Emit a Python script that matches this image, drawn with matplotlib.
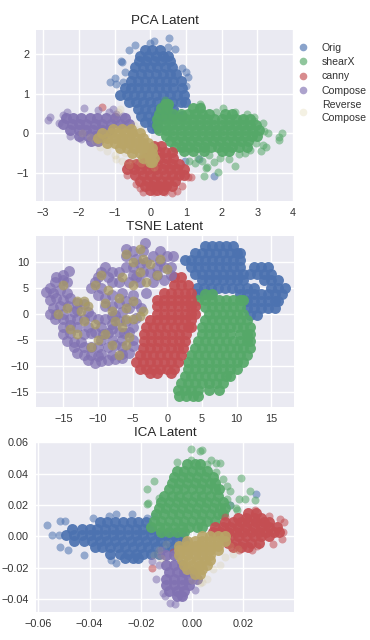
import numpy as np
import matplotlib
matplotlib.use('Agg')
import matplotlib.pyplot as plt
from matplotlib.lines import Line2D

plt.rcParams['font.family'] = ['Liberation Sans', 'DejaVu Sans']

names = ['Orig', 'shearX', 'canny', 'Compose', 'Reverse\nCompose']
colors = ['#4C72B0', '#55A868', '#C44E52', '#8172B2', '#CCB974']
tan_solid = '#B9A567'

### PCA values, (y, [x...]) rows for the dense part, pairs for the loose points
pca_orig_rows = [(2.1, [-0.15, 0.05, 0.28]), (1.97, [-0.28, -0.05, 0.15, 0.35, 0.5]),
    (1.83, [-0.32, -0.12, 0.1, 0.3, 0.55]), (1.68, [-0.42, -0.2, 0, 0.2, 0.4, 0.62]),
    (1.5, [-0.48, -0.25, -0.05, 0.15, 0.35, 0.55, 0.72]),
    (1.32, [-0.55, -0.35, -0.15, 0.05, 0.25, 0.45, 0.65, 0.85]),
    (1.15, [-0.72, -0.55, -0.35, -0.15, 0.05, 0.25, 0.45, 0.65, 0.88]),
    (0.97, [-0.85, -0.65, -0.45, -0.25, -0.05, 0.15, 0.35, 0.55, 0.75, 0.95]),
    (0.8, [-0.6, -0.4, -0.2, 0, 0.2, 0.4, 0.6, 0.85, 0.98]),
    (0.62, [-0.35, -0.15, 0.05, 0.25, 0.45, 0.65]), (0.45, [-0.25, -0.05, 0.15, 0.35, 0.6, 0.9]),
    (0.28, [-0.15, 0.05, 0.2]), (0.13, [0.05, 0.18])]
pca_orig_loose = [(0.53, 2.42), (0.1, 2.33), (0, 2.28), (-0.43, 2.25), (-0.6, 2.1), (0.5, 2.2), (0.7, 2.15),
    (-0.82, 1.83), (-0.78, 1.8), (0.9, 1.65), (1.0, 1.55), (1.06, 1.42), (-1.12, 1.3), (-1.0, 1.4),
    (-0.7, 1.55), (1.0, 1.2), (1.78, -1.08), (1.38, -0.66), (0.98, -0.7), (-0.95, 1.25), (-0.75, 1.3)]
pca_shear_rows = [(0.75, [0.4, 0.5]), (0.63, [0.3, 0.48, 1.2, 1.4]),
    (0.5, [0.25, 0.45, 0.65, 0.85, 1.05, 1.25, 1.45, 1.65, 2.1, 2.3]),
    (0.36, [0.2, 0.4, 0.6, 0.8, 1.0, 1.2, 1.4, 1.6, 1.8, 2.0, 2.2, 2.4, 2.6, 2.8]),
    (0.22, [0.2, 0.4, 0.6, 0.8, 1.0, 1.2, 1.4, 1.6, 1.8, 2.0, 2.2, 2.4, 2.6, 2.8, 2.95]),
    (0.08, [0.25, 0.45, 0.65, 0.85, 1.05, 1.25, 1.45, 1.65, 1.85, 2.05, 2.25, 2.45, 2.65, 2.85, 3.05]),
    (-0.06, [0.45, 0.65, 0.85, 1.05, 1.25, 1.45, 1.65, 1.85, 2.05, 2.25, 2.45, 2.65, 2.85, 3.0]),
    (-0.2, [0.55, 0.75, 0.95, 1.15, 1.35, 1.55, 1.75, 1.95, 2.15, 2.35, 2.55, 2.75]),
    (-0.34, [0.7, 0.9, 1.1, 1.3, 1.5, 1.7, 1.9, 2.1, 2.3, 2.5, 2.7]),
    (-0.46, [0.95, 1.2, 1.5, 2.0, 2.2])]
pca_shear_loose = [(0.42, 0.85), (1.4, 0.73), (1.43, 0.68), (2.05, 0.63), (2.38, 0.55), (2.6, 0.35), (2.9, 0.3),
    (3.15, 0.25), (3.2, 0.05), (3.3, 0), (3.68, 0), (3.6, -0.1), (3.6, -0.18), (3.25, -0.35), (3.1, -0.45),
    (3.15, -0.3), (2.65, -0.5), (2.5, -0.52), (2.37, -0.84), (2.2, -0.65), (1.95, -0.62), (1.65, -0.55),
    (1.6, -0.85), (1.55, -0.87), (1.9, -0.98), (1.5, -1.08), (1.25, -0.75), (1.1, -0.7), (1.45, -0.7),
    (2.8, -0.42), (2.95, -0.25), (1.8, -0.72), (1.35, -0.62), (2.9, 0.42), (2.7, 0.48), (1.85, 0.55)]
pca_canny_rows = [(-0.32, [0.1, 0.3]), (-0.48, [0.05, 0.25, 0.42, 0.6]),
    (-0.64, [-0.15, 0.05, 0.25, 0.45, 0.65]),
    (-0.78, [-0.6, -0.4, -0.2, 0, 0.2, 0.4, 0.6, 0.8]),
    (-0.92, [-0.65, -0.45, -0.25, -0.05, 0.15, 0.35, 0.55, 0.75, 0.95]),
    (-1.06, [-0.42, -0.2, 0, 0.2, 0.4, 0.6, 0.8, 0.95]), (-1.2, [-0.3, -0.1, 0.1, 0.3, 0.5, 0.7]),
    (-1.34, [-0.15, 0.05, 0.25, 0.45, 0.6]), (-1.43, [0, 0.2, 0.35])]
pca_canny_loose = [(-0.4, -1.3), (-0.2, -1.5), (0.1, -1.5), (0.6, -1.52), (0.75, -1.47), (0.9, -1.35),
    (1.05, -1.1), (1.15, -1.1), (-1.35, 0.66), (-0.98, 0.43), (-0.65, -1.05), (-0.3, -1.4), (0.4, -1.48)]
pca_compose_rows = [(0.38, [-2.35, -2.15, -1.95, -1.7, -1.5, -1.25, -1.0, -0.7]),
    (0.24, [-2.45, -2.2, -2.0, -1.8, -1.55, -1.35, -1.1, -0.85, -0.6]),
    (0.08, [-2.25, -2.0, -1.8, -1.6, -1.35, -1.15]), (-0.08, [-2.0, -1.75, -1.55, -1.35]), (-0.2, [-1.65, -1.45])]
pca_compose_loose = [(-2.87, 0.33), (-2.82, 0.42), (-2.45, 0.47), (-2.32, 0.53), (-1.85, 0.63), (-1.45, 0.6),
    (-1.15, 0.55), (-1.05, 0.62), (-0.95, 0.5), (-2.55, 0.27), (-2.25, -0.08), (-1.95, -0.15), (-0.75, 0.45)]
pca_reverse_rows = [(0.1, [-1.05, -0.8, -0.55]), (0, [-1.35, -1.1, -0.9, -0.7, -0.5, -0.3]),
    (-0.12, [-1.45, -1.2, -1.0, -0.8, -0.6, -0.4, -0.2]),
    (-0.25, [-1.2, -1.0, -0.8, -0.6, -0.4, -0.2, -0.05]),
    (-0.38, [-0.85, -0.65, -0.45, -0.25, -0.05, 0.05]), (-0.5, [-0.5, -0.3, -0.1, 0.05]),
    (-0.62, [-0.2, 0, 0.1]), (-0.74, [-0.02, 0.05])]
pca_reverse_loose = [(-1.55, -0.2), (-1.4, -0.35), (-1.2, -0.45), (-1.0, -0.55), (-0.95, -0.65), (-0.8, -0.7),
    (-0.5, -0.65), (-0.9, 0.55), (-1.7, -0.1), (-0.6, -0.8), (-0.45, 0.2), (-0.3, 0.1), (-1.9, 0),
    (-0.85, 0.62), (-0.7, -0.5), (-1.1, -0.3), (0.1, -0.85), (-0.25, -0.75)]

### TSNE values
tsne_orig_rows = [(13, [5.5, 6.5, 7.5, 8.5, 9.5]), (11.7, [4, 5, 6, 7, 8, 9, 10, 10.5]),
    (10.3, [2.5, 3.5, 4.5, 5.5, 6.5, 7.5, 8.5, 9.5, 10.5]),
    (9, [3.5, 4.5, 5.5, 6.5, 7.5, 8.5, 9.5, 10.5, 12.5, 13.5, 14.5]),
    (7.7, [4, 5, 6, 7, 8, 9, 10, 11, 12, 13, 14, 15]), (6.4, [5, 6, 7, 8, 9, 10, 11, 14, 15, 16]),
    (5, [4.3, 5.3, 6.3, 7.3, 8.3, 9.3, 10.3, 11.5, 12.5, 15, 16, 17]),
    (3.7, [4.3, 5.3, 6.3, 10.5, 11.5, 12.5, 13.5, 14.5, 15.5, 16.5]),
    (2.4, [11.5, 12.5, 13.5, 14.5, 15.5, 16]), (1, [11.5, 12.5, 13.5, 14.5, 15.5]), (-0.3, [12, 13])]
tsne_shear_rows = [(3.8, [5.5, 6.5]), (2.6, [4.5, 5.5, 6.5, 7.5, 8.5, 9.5, 10.5, 11]),
    (1.2, [5.5, 6.5, 7.5, 8.5, 9.5, 10.5]), (0, [6, 7, 8, 9, 10, 11]),
    (-1.3, [5.5, 6.5, 7.5, 8.5, 9.5, 10.5, 11.5]), (-2.6, [5, 6, 7, 8, 9, 10, 11, 12]),
    (-4, [5, 6, 7, 8, 9, 10.5, 11.5, 12]), (-5.3, [4.5, 5.5, 6.5, 7.5, 8.5, 9.5, 10.5, 11.5, 12]),
    (-6.6, [4, 5, 6, 7, 8, 9, 10, 11, 12]), (-8, [3.5, 4.5, 5.5, 6.5, 7.5, 8.5, 9.5, 10.5, 11.5]),
    (-9.3, [3, 4, 5, 6, 7, 8, 9, 10, 11]), (-10.6, [3, 4, 5, 6, 7, 8, 9, 10]),
    (-12, [2.5, 3.5, 4.5, 5.5, 6.5, 7.5, 8.5, 9]), (-13.3, [2, 3, 4, 5, 6, 7, 8]),
    (-14.6, [1.5, 2.5, 3.5, 4.5, 6, 7.5]), (-15.9, [1.7, 2.7, 3.7, 4.5])]
tsne_canny_rows = [(7, [1, 2]), (5.5, [1, 2, 3]), (4, [-0.5, 0.5, 1.5, 2.5, 3.5]),
    (2.7, [-1.5, -0.5, 0.5, 1.5, 2.5, 3.5]), (1.4, [-1.5, -0.5, 0.5, 1.5, 2.5, 3.5, 4]),
    (0, [-1.5, -0.5, 0.5, 1.5, 2.5, 3.5, 4]), (-1.3, [-2.5, -1.5, -0.5, 0.5, 1.5, 2.5, 3.5]),
    (-2.6, [-3, -2, -1, 0, 1, 2, 3, 3.5]), (-4, [-3.3, -2.3, -1.3, -0.3, 0.7, 1.7, 2.7]),
    (-5.3, [-3.3, -2.3, -1.3, -0.3, 0.7, 1.7, 2.5]), (-6.6, [-3.5, -2.5, -1.5, -0.5, 0.5, 1.5, 2.3]),
    (-8, [-4, -3, -2, -1, 0, 1, 2]), (-9.3, [-4.5, -3.5, -2.5, -1.5, -0.5, 0.5, 1.5]),
    (-10.6, [-4, -3, -2, -1, 0, 1]), (-11.5, [-2.5, -1.5, 0.5])]
tsne_compose_loose = [(-14.2, 8.3), (-15, 7.5), (-16, 7), (-15, 6.5), (-14.5, 6), (-16.2, 6), (-17, 5), (-17.5, 4.2),
    (-16.5, 4), (-15.5, 4.5), (-14.5, 4), (-14, 3), (-16, 3), (-15, 2.7), (-17, 2.7), (-15.5, 1.5), (-14.3, 1.5),
    (-16.5, 1), (-17, 0), (-16, 0), (-15, 0), (-13.5, 0.3), (-16.2, -1), (-15, -1), (-14, -1), (-13, -1), (-12, -1),
    (-11, -0.5), (-10, -1), (-9, -1), (-8, -0.5), (-15, -2.5), (-14, -2.2), (-13, -2.5), (-11.5, -2.5), (-9.5, -2.5),
    (-8, -2), (-7, -1.5), (-6, -1.5), (-5, -2.5), (-15, -4), (-14, -3.8), (-12, -4), (-10.5, -3.5), (-8.5, -3.7),
    (-7, -3.5), (-5.5, -3.5), (-14.5, -5.3), (-13.5, -5.5), (-12.5, -5.5), (-9.5, -5), (-8, -5), (-6.5, -5), (-5, -5),
    (-13.5, -6.5), (-12, -6.5), (-11, -6.5), (-10, -6.5), (-8.5, -6.5), (-6.5, -6.5), (-5, -6.3), (-13, -7.5), (-12, -8),
    (-11, -8), (-9.5, -7.8), (-8, -8), (-6.5, -7.8), (-5.5, -7.5), (-11.5, -9), (-10.5, -9.5), (-9.5, -9.2), (-8.5, -9),
    (-7.5, -8.8), (-6.5, -8.5), (-11, 5), (-10.5, 6), (-10, 7), (-9.5, 8), (-9, 9), (-8.5, 7), (-8, 6), (-9.5, 5),
    (-10, 3.5), (-9, 3), (-8, 3.5), (-9, 1.5), (-8, 1.5), (-7, 2), (-6.5, 4), (-7, 6), (-7, 8), (-6, 9), (-6, 11),
    (-6, 12.5), (-5, 12), (-4.5, 10.5), (-5, 9), (-5, 7.5), (-5.5, 6), (-4, 6), (-3.5, 8), (-3, 10), (-3.5, 12),
    (-3.2, 13.5), (-2, 11), (-1, 12), (0, 11), (0.8, 11), (-1.5, 9), (-0.5, 9), (0.5, 9), (-1.5, 7.5), (-0.5, 6.5),
    (0.5, 7.5), (-2, 6), (-3, 4), (-5, 3.5), (-6, 2.5), (-4.5, 2), (-3.8, 1),
    (-13, 2), (-13, 0.8), (-12, 1.8), (-11.5, 0.3), (-6.5, 0.3), (-7.5, -0.3), (-4.5, -0.8), (-11, -3.8), (-9.3, -4),
    (-6.3, -3.8), (-7.5, -6), (-10, -8.2), (-8, -3), (-4.5, 7), (-2.5, 8), (-1, 10.2), (-4, 9.5), (-8, 8), (-5.5, 1)]
tsne_reverse_loose = [(-15, 5.5), (-14.5, 1), (-15.8, 0), (-13, 2.5), (-12, 2.5), (-11.5, 1.5), (-12.5, 0.5), (-12, -1.5),
    (-14, -3), (-13, -4), (-10.5, -2), (-9, -4), (-10, -5), (-7.5, -1.5), (-6.5, -2.5), (-5, -1), (-8, -6), (-6, -6),
    (-5.5, -4.5), (-7, -8), (-11, -6.5), (-10.5, 5.5), (-9.5, 7.5), (-8.5, 4.5), (-9, 2), (-7, 3), (-6, 1), (-5, 2.5),
    (-3.5, 0.5), (-6.5, 7), (-6, 11.5), (-5, 10), (-4, 8), (-5, 5.5), (-3, 6), (-2.5, 9.5), (-1, 10.5), (-1.5, 7.5),
    (0, 8.5), (-4, 12.5), (-3.5, 10.5), (-8, 0.5), (-4, -0.5), (-6, -1)]

### ICA values
ica_orig_rows = [(0.009, [-0.036, -0.033, -0.03, -0.027, -0.024, -0.021, -0.018]),
    (0.005, [-0.047, -0.043, -0.04, -0.037, -0.034, -0.031, -0.028, -0.025, -0.022, -0.019, -0.016]),
    (0.001, [-0.049, -0.046, -0.043, -0.04, -0.037, -0.034, -0.031, -0.028, -0.025, -0.022, -0.019, -0.016, -0.013, -0.01, -0.007, -0.004]),
    (-0.003, [-0.046, -0.042, -0.039, -0.036, -0.033, -0.03, -0.027, -0.024, -0.021, -0.018, -0.015, -0.012, -0.009, -0.006, -0.003]),
    (-0.007, [-0.038, -0.035, -0.032, -0.029, -0.026, -0.023, -0.02, -0.017, -0.014, -0.011, -0.008]),
    (-0.011, [-0.032, -0.028, -0.025, -0.022, -0.019, -0.016, -0.013]), (-0.014, [-0.026, -0.023, -0.021])]
ica_orig_loose = [(-0.0565, 0.007), (-0.0545, 0.001), (-0.052, 0.001), (-0.0515, 0.01), (-0.0495, 0.01),
    (-0.0515, -0.007), (-0.0485, -0.009), (-0.042, -0.012), (-0.0325, 0.013), (-0.0385, 0.012), (-0.0298, 0.014),
    (-0.0234, 0.0145), (-0.0175, 0.012), (-0.0318, -0.015), (-0.0295, -0.017), (0.025, 0.027), (0.015, 0.02), (-0.015, 0.013)]
ica_shear_rows = [(0.046, [-0.002, 0.001, 0.003]), (0.042, [-0.006, -0.003, 0, 0.003, 0.006]),
    (0.038, [-0.007, -0.004, -0.001, 0.002, 0.005, 0.008]),
    (0.034, [-0.008, -0.005, -0.002, 0.001, 0.004, 0.007, 0.009]),
    (0.03, [-0.009, -0.006, -0.003, 0, 0.003, 0.006, 0.009, 0.0105]),
    (0.026, [-0.011, -0.008, -0.005, -0.002, 0.001, 0.004, 0.007, 0.01]),
    (0.022, [-0.012, -0.009, -0.006, -0.003, 0, 0.003, 0.006, 0.009, 0.012]),
    (0.018, [-0.013, -0.01, -0.007, -0.004, -0.001, 0.002, 0.005, 0.008, 0.011, 0.013]),
    (0.014, [-0.014, -0.011, -0.008, -0.005, -0.002, 0.001, 0.004, 0.007, 0.01, 0.012]),
    (0.01, [-0.015, -0.012, -0.009, -0.006, -0.003, 0, 0.003, 0.006, 0.009]),
    (0.006, [-0.016, -0.013, -0.01, -0.007, -0.004, -0.001, 0.002, 0.004]), (0.003, [-0.012, -0.009, -0.006, -0.003])]
ica_shear_loose = [(-0.0005, 0.056), (0.003, 0.0545), (0.0037, 0.055), (-0.006, 0.0475), (-0.0005, 0.049), (0.0075, 0.0485),
    (0.0095, 0.047), (0.011, 0.0465), (0.0095, 0.041), (0.012, 0.0365), (0.019, 0.037), (0.0135, 0.032), (0.015, 0.029),
    (0.0135, 0.024), (0.0185, 0.024), (0.0205, 0.024), (0.0225, 0.029), (0.0245, 0.023), (0.015, 0.02), (0.017, 0.018),
    (0.0175, 0.0165), (-0.015, 0.0355), (-0.0175, 0.0305), (-0.017, 0.0215), (-0.0175, 0.0205), (-0.013, 0.0245), (0.006, 0.046)]
ica_canny_rows = [(0.015, [0.022, 0.025]), (0.012, [0.018, 0.021, 0.024, 0.027]),
    (0.009, [0.013, 0.016, 0.019, 0.022, 0.025, 0.028, 0.03]),
    (0.006, [0.009, 0.012, 0.015, 0.018, 0.021, 0.024, 0.027, 0.03, 0.033]),
    (0.003, [0.008, 0.011, 0.014, 0.017, 0.02, 0.023, 0.026, 0.029, 0.032, 0.034]),
    (0, [0.012, 0.015, 0.018, 0.021, 0.024, 0.027, 0.03]), (-0.004, [0.014, 0.017, 0.02, 0.023, 0.026]),
    (-0.007, [0.016, 0.019, 0.022])]
ica_canny_loose = [(0.03, 0.013), (0.0345, 0.011), (0.036, 0.009), (0.0355, 0.003), (0.035, -0.002), (0.0315, -0.005),
    (0.0255, -0.006), (0.0235, -0.009), (0.0185, -0.009), (-0.0155, -0.02), (-0.0075, -0.01), (0.0245, 0.0165), (0.013, 0.0125)]
ica_compose_rows = [(-0.012, [-0.01, -0.007]), (-0.018, [-0.01, -0.007, -0.004]), (-0.023, [-0.009, -0.006, -0.003, 0]),
    (-0.027, [-0.01, -0.007, -0.004, -0.001, 0.002]), (-0.031, [-0.01, -0.007, -0.004, -0.001]),
    (-0.035, [-0.009, -0.006, -0.003]), (-0.038, [-0.006, -0.004])]
ica_compose_loose = [(-0.0085, -0.0425), (-0.0065, -0.0435), (-0.0115, -0.036), (-0.0105, -0.038), (-0.004, -0.038),
    (-0.014, -0.027), (-0.013, -0.018), (-0.012, -0.012), (-0.0155, -0.016), (-0.012, -0.0085), (0.001, -0.034)]
ica_reverse_rows = [(0, [0.004, 0.007, 0.01, 0.013]), (-0.003, [-0.002, 0.001, 0.004, 0.007, 0.01, 0.013]),
    (-0.006, [-0.005, -0.002, 0.001, 0.004, 0.007, 0.01]), (-0.009, [-0.005, -0.002, 0.001, 0.004, 0.007, 0.01]),
    (-0.012, [-0.005, -0.002, 0.001, 0.004, 0.007]), (-0.015, [-0.004, -0.001, 0.002, 0.005, 0.007]),
    (-0.018, [-0.003, 0, 0.003, 0.006]), (-0.021, [-0.002, 0.001, 0.004]), (-0.024, [0.001, 0.003])]
ica_reverse_loose = [(-0.015, -0.012), (-0.012, -0.014), (0.008, -0.021), (0.011, -0.018), (0.013, -0.013), (0.016, -0.011),
    (0.006, -0.027), (0.004, -0.029), (0.018, -0.008), (0, -0.028), (0.015, -0.006), (-0.01, -0.005), (-0.013, -0.009), (0.003, -0.03)]

W, H = 370.0, 640.0
fig = plt.figure(figsize=(W / 100, H / 100), dpi=100, facecolor='white')


def tick_text(t, fmt):
    return ('\u2212' if t < 0 else '') + fmt % abs(t)


def make_axes(left, right, top, bottom, title, xlim, ylim, xticks, yticks, fmt):
    ax = fig.add_axes([left / W, 1 - bottom / H, (right - left) / W, (bottom - top) / H])
    ax.set_facecolor('#EAEAF2')
    for s in ax.spines.values():
        s.set_visible(False)
    ax.grid(color='white', linewidth=1.0)
    ax.set_axisbelow(True)
    ax.set_xlim(xlim)
    ax.set_ylim(ylim)
    ax.set_xticks(xticks)
    ax.set_yticks(yticks)
    ax.set_xticklabels([tick_text(t, fmt) for t in xticks])
    ax.set_yticklabels([tick_text(t, fmt) for t in yticks])
    ax.tick_params(length=0, labelsize=7.8, labelcolor='#333333', pad=5)
    ax.set_title(title, fontsize=9.6, color='#262626', pad=4)
    return ax


def expand(rows):
    return [(x, y) for y, xs in rows for x in xs]


def draw(ax, i, rows, loose, core_alpha=0.92, loose_alpha=0.55, loose_size=33, color=None):
    # dense part nearly solid, loose points see-through
    if loose:
        p = np.array(loose)
        ax.scatter(p[:, 0], p[:, 1], s=loose_size, color=colors[i], alpha=loose_alpha, linewidths=0)
    if rows:
        p = np.array(expand(rows))
        ax.scatter(p[:, 0], p[:, 1], s=62, color=color or colors[i], alpha=core_alpha, linewidths=0)


###PCA
ax1 = make_axes(36, 293, 30, 201, 'PCA Latent', (-3.2, 4.0), (-1.72, 2.62),
                [-3, -2, -1, 0, 1, 2, 3, 4], [-1, 0, 1, 2], '%d')
draw(ax1, 0, pca_orig_rows, pca_orig_loose)
draw(ax1, 1, pca_shear_rows, pca_shear_loose)
draw(ax1, 2, pca_canny_rows, pca_canny_loose)
draw(ax1, 3, pca_compose_rows, pca_compose_loose)
draw(ax1, 4, pca_reverse_rows, pca_reverse_loose, core_alpha=0.9, loose_alpha=0.18, color=tan_solid)

handles = [Line2D([], [], linestyle='none', marker='o', markersize=5.5, markeredgewidth=0,
                  color=c, alpha=a) for c, a in zip(colors, [0.65, 0.65, 0.65, 0.65, 0.2])]
leg = ax1.legend(handles, names, loc='upper left', bbox_to_anchor=(0.98, 0.97), frameon=False, fontsize=7.6,
                 labelspacing=0.42, handletextpad=1.1, handlelength=1.4, borderaxespad=0.3, labelcolor='#333333')
for t in leg.get_texts():
    t.set_linespacing(1.3)

###TSNE
ax2 = make_axes(36, 294, 235.7, 406.7, 'TSNE Latent', (-18.95, 18.3), (-17.9, 15.0),
                [-15, -10, -5, 0, 5, 10, 15], [-15, -10, -5, 0, 5, 10], '%d')
draw(ax2, 0, tsne_orig_rows, [])
draw(ax2, 1, tsne_shear_rows, [])
draw(ax2, 2, tsne_canny_rows, [])
draw(ax2, 3, [], tsne_compose_loose, loose_alpha=0.75, loose_size=62)
p = np.array(tsne_reverse_loose)
ax2.scatter(p[:, 0], p[:, 1], s=50, color='#A89A62', alpha=0.75, linewidths=0)

###ICA
ax3 = make_axes(36, 294, 441.7, 611.7, 'ICA Latent', (-0.0609, 0.0398), (-0.0481, 0.0604),
                [-0.06, -0.04, -0.02, 0, 0.02], [-0.04, -0.02, 0, 0.02, 0.04, 0.06], '%.2f')
draw(ax3, 0, ica_orig_rows, ica_orig_loose)
draw(ax3, 1, ica_shear_rows, ica_shear_loose)
draw(ax3, 2, ica_canny_rows, ica_canny_loose)
draw(ax3, 3, ica_compose_rows, ica_compose_loose)
draw(ax3, 4, ica_reverse_rows, ica_reverse_loose, core_alpha=0.9, loose_alpha=0.18, color=tan_solid)

fig.savefig('out.png', dpi=100)
